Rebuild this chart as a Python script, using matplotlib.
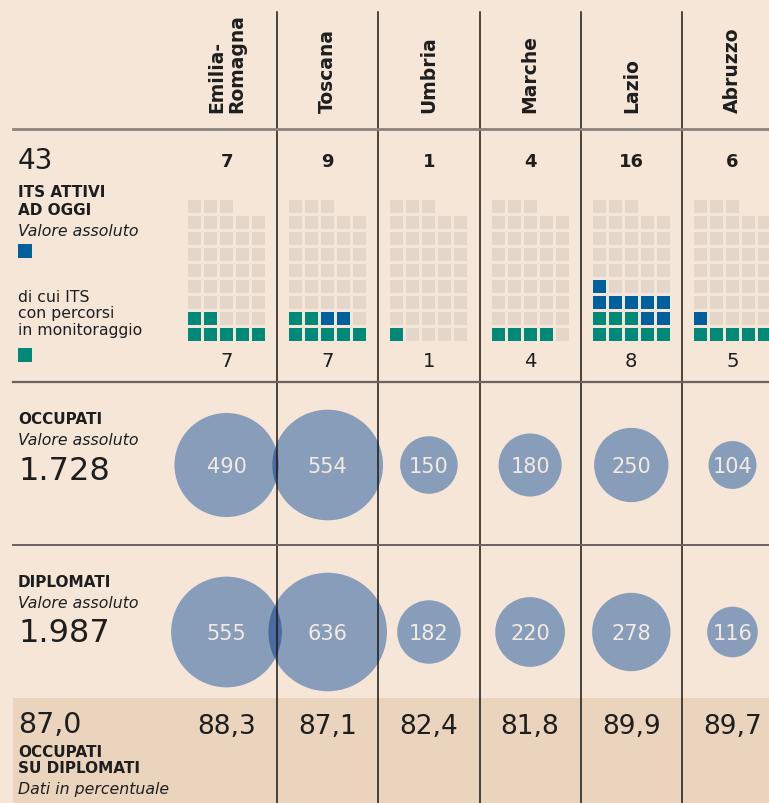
import matplotlib
matplotlib.use('Agg')
import matplotlib.pyplot as plt
from matplotlib.patches import Rectangle, Circle
import numpy as np

# ---------------- data ----------------
regions = ['Emilia-\nRomagna', 'Toscana', 'Umbria', 'Marche', 'Lazio', 'Abruzzo']
its_attivi = [7, 9, 1, 4, 16, 6]
its_monitorati = [7, 7, 1, 4, 8, 5]
occupati = [490, 554, 150, 180, 250, 104]
diplomati = [555, 636, 182, 220, 278, 116]
occ_su_dipl = [88.3, 87.1, 82.4, 81.8, 89.9, 89.7]
tot_its = 43
tot_occupati = '1.728'
tot_diplomati = '1.987'
tot_pct = 87.0

# ---------------- style ----------------
BG = '#F5E6D8'
BAND = '#EAD4BD'
GREEN = '#008978'
BLUE = '#00609C'
GRAY = '#E4D6C8'
CIRC = '#889DBA'
OVER = '#4B6BA0'
TXT = '#1E1E1E'
FONT = ['DejaVu Sans']
plt.rcParams['font.family'] = FONT

def fmt(v):
    return f'{v:.1f}'.replace('.', ',')

fig = plt.figure(figsize=(7.69, 8.04), dpi=100, facecolor=BG)
ax = fig.add_axes([0, 0, 1, 1])
ax.set_xlim(0, 769)
ax.set_ylim(804, 0)
ax.axis('off')
ax.set_facecolor(BG)

W = 101.2
x0 = 226.5
centers = [x0 + W * i for i in range(len(regions))]
bounds = [c + W / 2 for c in centers[:-1]]

# bottom band
ax.add_patch(Rectangle((13, 699), 769 - 13, 110, facecolor=BAND, edgecolor='none', zorder=0))

# headers
for c, name in zip(centers, regions):
    ax.text(c, 113, name, rotation=90, ha='center', va='bottom', fontsize=13.5,
            fontweight='bold', color=TXT, multialignment='left', linespacing=1.05)

# waffles
cell, pitch = 13, 16
for c, a, m in zip(centers, its_attivi, its_monitorati):
    left = c - (4 * pitch + cell) / 2
    for n in range(tot_its):
        row, col = divmod(n, 5)
        colr = GREEN if n < m else (BLUE if n < a else GRAY)
        ax.add_patch(Rectangle((left + col * pitch, 329 - row * pitch), cell, cell,
                               facecolor=colr, edgecolor='none', zorder=1))
    ax.text(c, 167, str(a), ha='center', va='baseline', fontsize=13, fontweight='bold', color=TXT)
    ax.text(c, 367, str(m), ha='center', va='baseline', fontsize=14, color=TXT)

# circles
K = 2.35
for vals, cy in ((occupati, 466), (diplomati, 633)):
    pats = []
    for c, v in zip(centers, vals):
        r = K * np.sqrt(v)
        p = Circle((c, cy), r, facecolor=CIRC, edgecolor='none', zorder=2)
        ax.add_patch(p)
        pats.append((c, r, p))
    for i in range(len(pats) - 1):
        c1, r1, p1 = pats[i]
        c2, r2, p2 = pats[i + 1]
        if c2 - c1 < r1 + r2:
            q = Circle((c2, cy), r2, facecolor=OVER, edgecolor='none', zorder=2.5)
            ax.add_patch(q)
            q.set_clip_path(p1)
    for c, v in zip(centers, vals):
        ax.text(c, cy + 1, str(v), ha='center', va='center', fontsize=15, color='#F3EBE3', zorder=4)

# lines
for b in bounds:
    ax.plot([b, b], [13, 804], color='#1A1714', lw=1.1, zorder=3)
ax.plot([13, 769], [130, 130], color='#8C8379', lw=2.0, zorder=3)
ax.plot([13, 769], [383, 383], color='#6A625B', lw=1.6, zorder=3)
ax.plot([13, 769], [546, 546], color='#6A625B', lw=1.4, zorder=3)

# left labels
LX = 18
BIG = dict(color=TXT, va='baseline')
LAB = dict(fontsize=11, fontweight='bold', color=TXT, va='baseline')
ITA = dict(fontsize=11.3, style='italic', color=TXT, va='baseline')
REG = dict(fontsize=11.3, color=TXT, va='baseline')

ax.text(LX, 169, str(tot_its), fontsize=20, **BIG)
ax.text(LX, 197, 'ITS ATTIVI', **LAB)
ax.text(LX, 215, 'AD OGGI', **LAB)
ax.text(LX, 236, 'Valore assoluto', **ITA)
ax.add_patch(Rectangle((LX, 245), 14, 14, facecolor=BLUE, edgecolor='none'))
ax.text(LX, 302, 'di cui ITS', **REG)
ax.text(LX, 318.5, 'con percorsi', **REG)
ax.text(LX, 335, 'in monitoraggio', **REG)
ax.add_patch(Rectangle((LX, 349), 14, 14, facecolor=GREEN, edgecolor='none'))

ax.text(LX, 424, 'OCCUPATI', **LAB)
ax.text(LX, 445, 'Valore assoluto', **ITA)
ax.text(LX, 480, tot_occupati, fontsize=23, **BIG)

ax.text(LX, 587, 'DIPLOMATI', **LAB)
ax.text(LX, 608, 'Valore assoluto', **ITA)
ax.text(LX, 642, tot_diplomati, fontsize=23, **BIG)

ax.text(LX, 733, fmt(tot_pct), fontsize=20.5, **BIG)
ax.text(LX, 757, 'OCCUPATI', **LAB)
ax.text(LX, 773, 'SU DIPLOMATI', **LAB)
ax.text(LX, 794, 'Dati in percentuale', **ITA)

for c, v in zip(centers, occ_su_dipl):
    ax.text(c, 734, fmt(v), ha='center', va='baseline', fontsize=19, color=TXT)

fig.savefig('out.png', dpi=100, facecolor=BG)
